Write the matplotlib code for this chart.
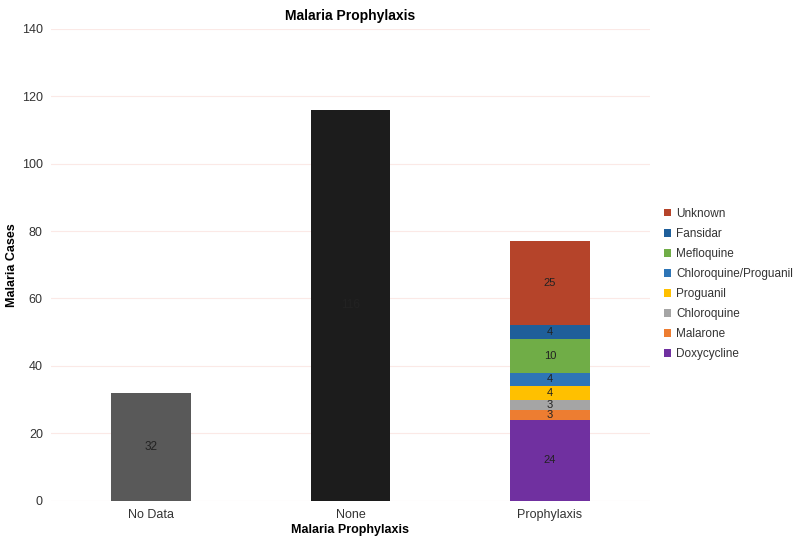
import matplotlib
matplotlib.use("Agg")
import matplotlib.pyplot as plt
import numpy as np

plt.rcParams['font.family'] = ['Liberation Sans', 'DejaVu Sans']

categories = ["No Data", "None", "Prophylaxis"]
single_values = [32, 116]
single_colors = ["#595959", "#1c1c1c"]

stack_names = ["Doxycycline", "Malarone", "Chloroquine", "Proguanil",
               "Chloroquine/Proguanil", "Mefloquine", "Fansidar", "Unknown"]
stack_values = [24, 3, 3, 4, 4, 10, 4, 25]
stack_colors = ["#7030a0", "#ed7d31", "#a5a5a5", "#ffc000",
                "#2e75b6", "#70ad47", "#1f5f9a", "#b5442a"]

fig = plt.figure(figsize=(8, 5.42), dpi=100)
ax = fig.add_axes([0.064, 0.076, 0.748, 0.871])

x = np.arange(len(categories))
w = 0.4
for i, v in enumerate(single_values):
    ax.bar(x[i], v, w, color=single_colors[i], zorder=2)
    ax.text(x[i], v / 2, str(v), ha='center', va='center', fontsize=8.5, color='#222222', zorder=3)

bottom = 0
handles = []
for name, v, c in zip(stack_names, stack_values, stack_colors):
    b = ax.bar(x[2], v, w, bottom=bottom, color=c, label=name, zorder=2)
    handles.append(b)
    ax.text(x[2], bottom + v / 2, str(v), ha='center', va='center', fontsize=8,
            color='#222222', zorder=3)
    bottom += v

ax.set_xlim(-0.5, 2.5)
ax.set_ylim(0, 140)
ax.set_yticks(np.arange(0, 141, 20))
ax.set_xticks(x)
ax.set_xticklabels(categories)
ax.grid(axis='y', color='#fbe9e6', linewidth=0.8, zorder=0)
for s in ax.spines.values():
    s.set_visible(False)
ax.tick_params(axis='both', length=0, labelsize=9, colors='#333333', pad=6)
ax.set_xlabel("Malaria Prophylaxis", fontsize=9, fontweight='bold', labelpad=2)
ax.set_ylabel("Malaria Cases", fontsize=9, fontweight='bold', labelpad=3)
ax.set_title("Malaria Prophylaxis", fontsize=10, fontweight='bold', pad=6)

leg = fig.legend(handles[::-1], stack_names[::-1], loc='center left',
                 bbox_to_anchor=(0.822, 0.476), frameon=False, fontsize=8.5,
                 handlelength=0.6, handleheight=0.6, handletextpad=0.5,
                 labelspacing=0.68, borderpad=0)
for t in leg.get_texts():
    t.set_color('#333333')

fig.savefig("out.png", dpi=100)
